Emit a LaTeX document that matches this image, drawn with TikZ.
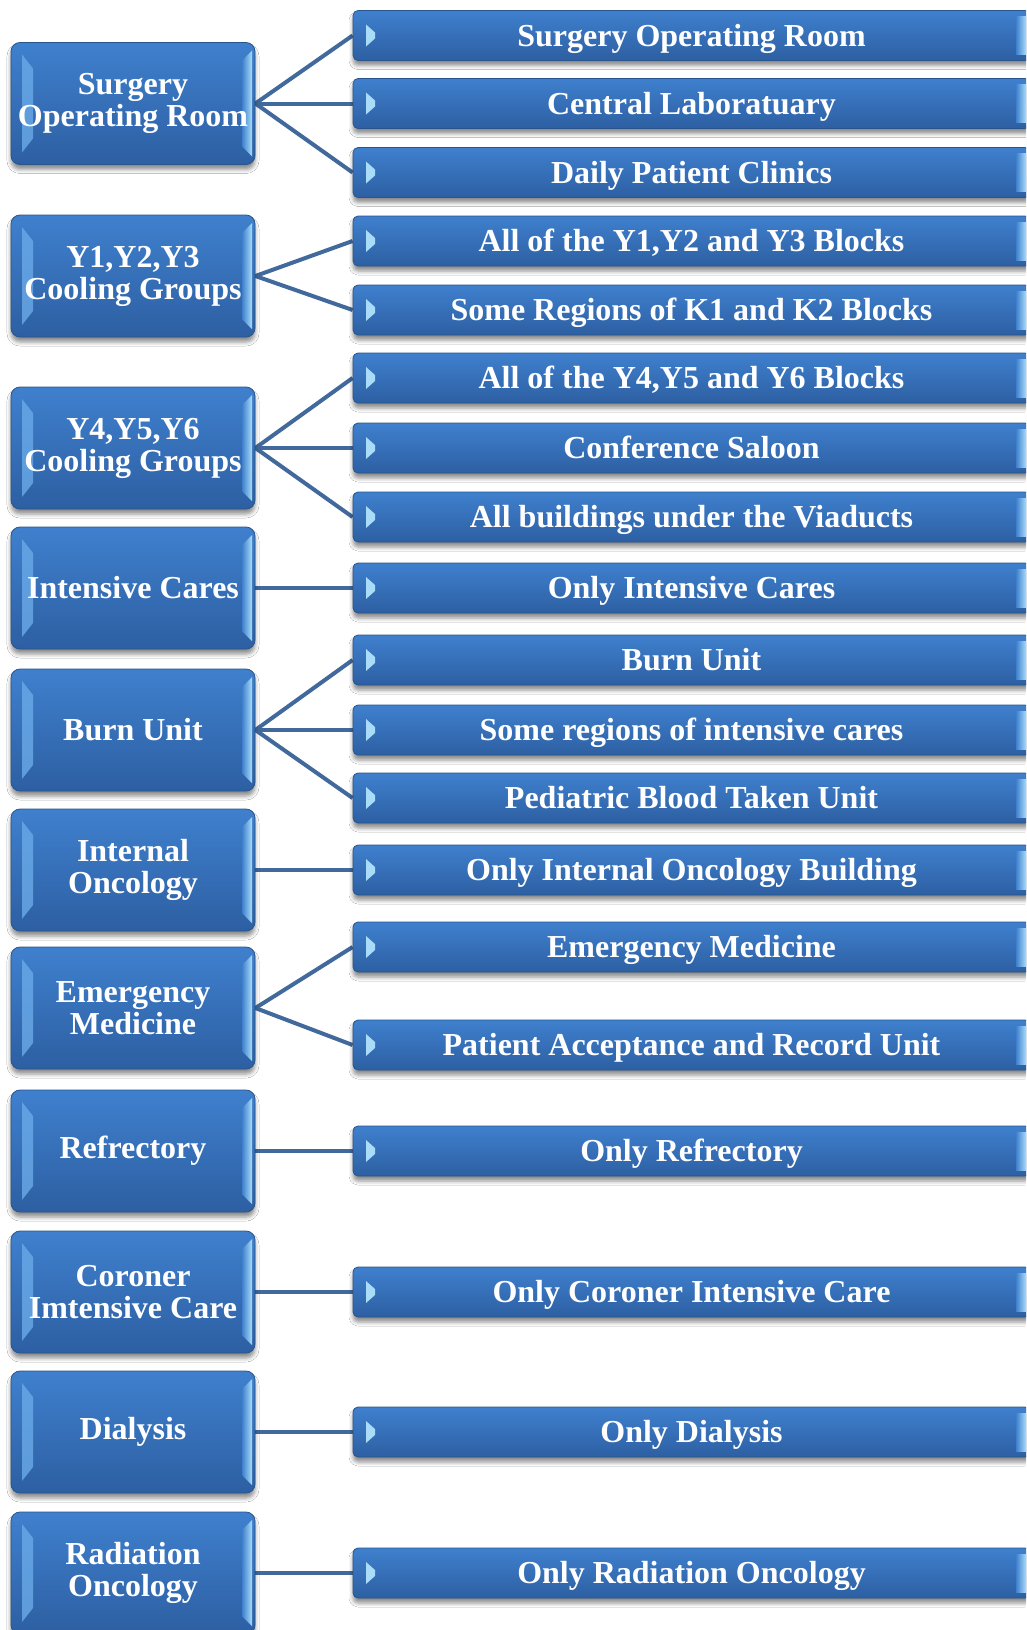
\documentclass[tikz,border=0pt]{standalone}
\usepackage{fontspec}
\setmainfont{Liberation Serif}
\usetikzlibrary{shadows.blur}
\definecolor{boxtop}{HTML}{3F80CE}
\definecolor{boxbot}{HTML}{2D5FA2}
\definecolor{boxedge}{HTML}{2A558C}
\definecolor{bevlight}{HTML}{6AAAE8}
\definecolor{bevglow}{HTML}{A8DCF8}
\definecolor{linkc}{HTML}{41699C}
\pgfdeclarelayer{background}
\pgfsetlayers{background,main}
\begin{document}
\begin{tikzpicture}[x=1pt,y=-1pt,
  font=\fontsize{32}{32}\selectfont\bfseries,
  basebox/.style={draw=boxedge, line width=0.8pt, top color=boxtop, bottom color=boxbot,
    text=white, inner sep=0pt,
    blur shadow={shadow xshift=0pt, shadow yshift=-5pt, shadow blur radius=4pt, shadow opacity=45}},
  leftbox/.style={basebox, rounded corners=9pt, minimum width=244pt, minimum height=122pt, align=center,
    path picture={
      \fill[sharp corners, bevlight, fill opacity=0.8]
        ([xshift=11pt,yshift=-12pt]path picture bounding box.north west) --
        ([xshift=22pt,yshift=-26pt]path picture bounding box.north west) --
        ([xshift=22pt,yshift=26pt]path picture bounding box.south west) --
        ([xshift=11pt,yshift=12pt]path picture bounding box.south west) -- cycle;
      \shade[sharp corners, left color=boxtop, right color=bevglow]
        ([xshift=-13pt,yshift=-18pt]path picture bounding box.north east) --
        ([xshift=-3pt,yshift=-8pt]path picture bounding box.north east) --
        ([xshift=-3pt,yshift=8pt]path picture bounding box.south east) --
        ([xshift=-13pt,yshift=18pt]path picture bounding box.south east) -- cycle;
    }},
  rightbox/.style={basebox, rounded corners=5pt, minimum width=677pt, minimum height=50pt,
    text height=21pt, text depth=0pt,
    path picture={
      \fill[sharp corners, bevglow]
        ([xshift=13pt,yshift=11pt]path picture bounding box.west) --
        ([xshift=22pt,yshift=3pt]path picture bounding box.west) --
        ([xshift=22pt,yshift=-3pt]path picture bounding box.west) --
        ([xshift=13pt,yshift=-11pt]path picture bounding box.west) -- cycle;
      \shade[sharp corners, left color=boxtop, right color=bevglow]
        ([xshift=-14pt,yshift=-6pt]path picture bounding box.north east) rectangle
        ([xshift=-4pt,yshift=6pt]path picture bounding box.south east);
    }},
  link/.style={draw=linkc, line width=4pt}
]
\useasboundingbox (0,0) rectangle (1026,1630);
\clip (0,0) rectangle (1026,1630);

% systems (left column)
\node[leftbox] (L1)  at (133,103.5) {Surgery\\Operating Room};
\node[leftbox] (L2)  at (133,276)   {Y1,Y2,Y3\\Cooling Groups};
\node[leftbox] (L3)  at (133,448)   {Y4,Y5,Y6\\Cooling Groups};
\node[leftbox] (L4)  at (133,588)   {Intensive Cares};
\node[leftbox] (L5)  at (133,730)   {Burn Unit};
\node[leftbox] (L6)  at (133,870)   {Internal\\Oncology};
\node[leftbox] (L7)  at (133,1008)  {Emergency\\Medicine};
\node[leftbox] (L8)  at (133,1151)  {Refrectory};
\node[leftbox] (L9)  at (133,1292)  {Coroner\\Imtensive Care};
\node[leftbox] (L10) at (133,1432)  {Dialysis};
\node[leftbox] (L11) at (133,1573)  {Radiation\\Oncology};

% served areas (right column)
\node[rightbox] (R1)  at (691.5,35.5)  {Surgery Operating Room};
\node[rightbox] (R2)  at (691.5,103.5) {Central Laboratuary};
\node[rightbox] (R3)  at (691.5,172.5) {Daily Patient Clinics};
\node[rightbox] (R4)  at (691.5,241)   {All of the Y1,Y2 and Y3 Blocks};
\node[rightbox] (R5)  at (691.5,310)   {Some Regions of K1 and K2 Blocks};
\node[rightbox] (R6)  at (691.5,378)   {All of the Y4,Y5 and Y6 Blocks};
\node[rightbox] (R7)  at (691.5,448)   {Conference Saloon};
\node[rightbox] (R8)  at (691.5,517)   {All buildings under the Viaducts};
\node[rightbox] (R9)  at (691.5,588)   {Only Intensive Cares};
\node[rightbox] (R10) at (691.5,660)   {Burn Unit};
\node[rightbox] (R11) at (691.5,730)   {Some regions of intensive cares};
\node[rightbox] (R12) at (691.5,798)   {Pediatric Blood Taken Unit};
\node[rightbox] (R13) at (691.5,870)   {Only Internal Oncology Building};
\node[rightbox] (R14) at (691.5,947)   {Emergency Medicine};
\node[rightbox] (R15) at (691.5,1045)  {Patient Acceptance and Record Unit};
\node[rightbox] (R16) at (691.5,1151)  {Only Refrectory};
\node[rightbox] (R17) at (691.5,1292)  {Only Coroner Intensive Care};
\node[rightbox] (R18) at (691.5,1432)  {Only Dialysis};
\node[rightbox] (R19) at (691.5,1573)  {Only Radiation Oncology};

% white sheet and connectors behind the boxes
\begin{pgfonlayer}{background}
  \fill[white] (0,0) rectangle (1026,1630);
  \foreach \a/\b in {L1/R1,L1/R2,L1/R3,L2/R4,L2/R5,L3/R6,L3/R7,L3/R8,L4/R9,
                     L5/R10,L5/R11,L5/R12,L6/R13,L7/R14,L7/R15,L8/R16,L9/R17,
                     L10/R18,L11/R19}
    \draw[link] (\a.east) -- (\b.west);
\end{pgfonlayer}
\end{tikzpicture}
\end{document}
